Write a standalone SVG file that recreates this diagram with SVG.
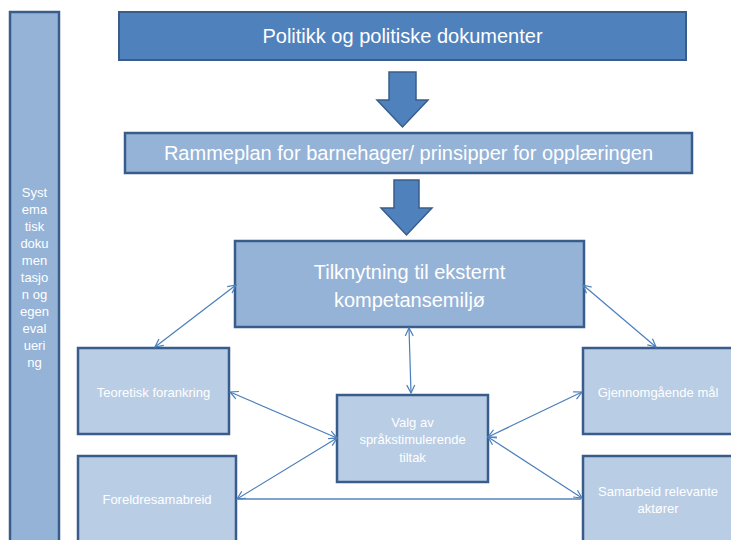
<svg xmlns="http://www.w3.org/2000/svg" width="731" height="540" viewBox="0 0 731 540">
<defs>
<style>
.dark{fill:#4f81bd;stroke:#385d8a;stroke-width:2}
.mid{fill:#95b3d7;stroke:#385d8a;stroke-width:2.5}
.light{fill:#b9cde5;stroke:#385d8a;stroke-width:2.5}
text{font-family:"Liberation Sans",Arial,sans-serif;fill:#ffffff;text-anchor:middle}
.big{font-size:20px}
.sm{font-size:13px}
.con{stroke:#4a7ebb;stroke-width:1.2;fill:none;marker-start:url(#ah);marker-end:url(#ah)}
.con2{stroke:#7fa2d0;stroke-width:2;fill:none}
.blk{fill:#4f81bd;stroke:#385d8a;stroke-width:1.5}
</style>
<marker id="ah" viewBox="0 0 10 10" refX="9" refY="5" markerWidth="10" markerHeight="10" markerUnits="userSpaceOnUse" orient="auto-start-reverse">
<path d="M1,1 L9,5 L1,9" fill="none" stroke="#4a7ebb" stroke-width="1.2"/>
</marker>
</defs>
<rect width="731" height="540" fill="#ffffff"/>
<g id="sidebar">
<rect class="mid" x="10" y="12" width="49" height="540"/>
<text class="sm" x="34.5"><tspan x="34.5" y="197">Syst</tspan><tspan x="34.5" y="214">ema</tspan><tspan x="34.5" y="231">tisk</tspan><tspan x="34.5" y="248">doku</tspan><tspan x="34.5" y="265">men</tspan><tspan x="34.5" y="282">tasjo</tspan><tspan x="34.5" y="299">n og</tspan><tspan x="34.5" y="316">egen</tspan><tspan x="34.5" y="333">eval</tspan><tspan x="34.5" y="350">ueri</tspan><tspan x="34.5" y="367">ng</tspan></text>
</g>
<g id="politikk">
<rect class="dark" x="119" y="12" width="567" height="48"/>
<text class="big" x="402.5" y="43">Politikk og politiske dokumenter</text>
</g>
<g id="arrow1">
<path class="blk" d="M389,72 H416 V100 H428 L402.5,127 L377,100 H389 Z"/>
</g>
<g id="rammeplan">
<rect class="mid" x="125" y="133" width="567" height="40"/>
<text class="big" x="408.5" y="160">Rammeplan for barnehager/ prinsipper for opplæringen</text>
</g>
<g id="arrow2">
<path class="blk" d="M394,180 H419 V208 H432 L406.5,235 L381,208 H394 Z"/>
</g>
<g id="tilknytning">
<rect class="mid" x="235" y="241" width="349" height="86"/>
<text class="big" x="409.5" y="279">Tilknytning til eksternt</text>
<text class="big" x="409.5" y="307">kompetansemiljø</text>
</g>
<g id="teoretisk">
<rect class="light" x="78" y="348" width="151" height="86"/>
<text class="sm" x="153.5" y="397">Teoretisk forankring</text>
</g>
<g id="foreldre">
<rect class="light" x="78" y="456" width="158" height="100"/>
<text class="sm" x="157" y="504">Foreldresamabreid</text>
</g>
<g id="valg">
<rect class="light" x="337" y="395" width="151" height="87"/>
<text class="sm" x="412.5" y="427">Valg av</text>
<text class="sm" x="412.5" y="444">språkstimulerende</text>
<text class="sm" x="412.5" y="462">tiltak</text>
</g>
<g id="gjennomgaende">
<rect class="light" x="583" y="348" width="160" height="86"/>
<text class="sm" x="658" y="397">Gjennomgående mål</text>
</g>
<g id="samarbeid">
<rect class="light" x="583" y="456" width="160" height="100"/>
<text class="sm" x="658" y="496">Samarbeid relevante</text>
<text class="sm" x="658" y="513">aktører</text>
</g>
<g id="connectors">
<line class="con2" x1="238" y1="499" x2="581" y2="499"/>
<line class="con" x1="236" y1="285" x2="155" y2="347"/>
<line class="con" x1="583" y1="285" x2="656" y2="347"/>
<line class="con" x1="409" y1="328" x2="411" y2="393"/>
<line class="con" x1="230" y1="392" x2="337" y2="438"/>
<line class="con" x1="237" y1="499" x2="337" y2="438"/>
<line class="con" x1="488" y1="437" x2="582" y2="392"/>
<line class="con" x1="488" y1="437" x2="582" y2="498"/>
</g>
</svg>
